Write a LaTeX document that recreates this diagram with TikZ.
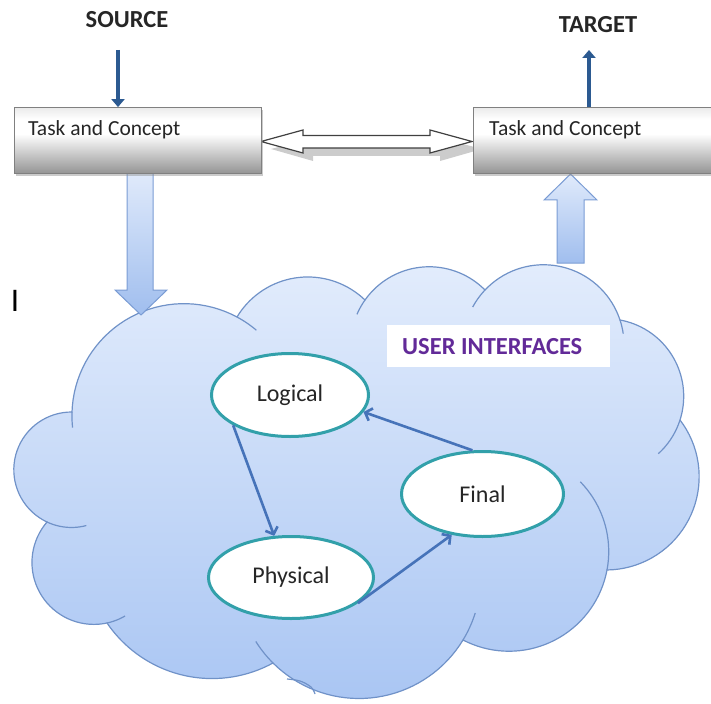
\documentclass[tikz,border=0pt]{standalone}
\usepackage{fontspec}
\setmainfont{Carlito}
\usetikzlibrary{arrows.meta,shapes.geometric,shadows}

\definecolor{srcblue}{RGB}{44,90,145}
\definecolor{linkblue}{RGB}{70,115,185}
\definecolor{ringteal}{RGB}{50,160,170}
\definecolor{cloudedge}{RGB}{112,146,200}
\definecolor{uipurple}{RGB}{98,42,152}
\definecolor{blockedge}{RGB}{122,156,212}
\definecolor{textdark}{RGB}{38,38,38}
\definecolor{cloudlow}{RGB}{170,198,243}
\definecolor{cloudhigh}{RGB}{226,236,252}
\definecolor{blocklow}{RGB}{160,190,238}
\definecolor{blockhigh}{RGB}{224,234,251}

\pgfdeclareverticalshading{boxshade}{100bp}{color(0bp)=(black!42); color(25bp)=(black!42); color(38bp)=(black!24); color(55bp)=(white); color(66bp)=(white); color(75bp)=(black!8); color(100bp)=(black!8)}
\pgfdeclareverticalshading{cloudshade}{100bp}{color(0bp)=(cloudlow); color(25bp)=(cloudlow); color(75bp)=(cloudhigh); color(100bp)=(cloudhigh)}
\pgfdeclareverticalshading{blockshade}{100bp}{color(0bp)=(blocklow); color(25bp)=(blocklow); color(75bp)=(blockhigh); color(100bp)=(blockhigh)}

% \lobefit{name}{x1}{y1}{xm}{ym}{x2}{y2}: circle through start, middle and end
% point of one cloud lobe; stores centre, radius and start/end angles
\newcommand\lobefit[7]{%
  \pgfmathsetmacro\lbBx{(#6-#2)/100}%
  \pgfmathsetmacro\lbBy{(#7-#3)/100}%
  \pgfmathsetmacro\lbCx{(#4-#2)/100}%
  \pgfmathsetmacro\lbCy{(#5-#3)/100}%
  \pgfmathsetmacro\lbBB{\lbBx*\lbBx+\lbBy*\lbBy}%
  \pgfmathsetmacro\lbCC{\lbCx*\lbCx+\lbCy*\lbCy}%
  \pgfmathsetmacro\lbD{2*(\lbBx*\lbCy-\lbBy*\lbCx)}%
  \pgfmathsetmacro\lbUx{(\lbCy*\lbBB-\lbBy*\lbCC)/\lbD}%
  \pgfmathsetmacro\lbUy{(\lbBx*\lbCC-\lbCx*\lbBB)/\lbD}%
  \pgfmathsetmacro\lbR{100*veclen(\lbUx,\lbUy)}%
  \pgfmathsetmacro\lbOx{#2+100*\lbUx}%
  \pgfmathsetmacro\lbOy{#3+100*\lbUy}%
  \pgfmathsetmacro\lbTa{atan2(-\lbUy,-\lbUx)}%
  \pgfmathsetmacro\lbTb{atan2(\lbBy-\lbUy,\lbBx-\lbUx)}%
  \pgfmathsetmacro\lbTb{\lbTb<\lbTa ? \lbTb+360 : \lbTb}%
  \expandafter\xdef\csname lbOx#1\endcsname{\lbOx}%
  \expandafter\xdef\csname lbOy#1\endcsname{\lbOy}%
  \expandafter\xdef\csname lbR#1\endcsname{\lbR}%
  \expandafter\xdef\csname lbTa#1\endcsname{\lbTa}%
  \expandafter\xdef\csname lbTb#1\endcsname{\lbTb}%
}

\begin{document}
\begin{tikzpicture}[x=1pt,y=-1pt,
  conceptbox/.style={shade, shading=boxshade, draw=black!50, line width=0.8pt,
    minimum width=247pt, minimum height=66pt, inner sep=0pt,
    drop shadow={shadow xshift=2pt, shadow yshift=-2.5pt, fill=black!45, opacity=.45}},
  boxtext/.style={anchor=base west, inner sep=0pt, text=textdark, font=\fontsize{21.5}{25}\selectfont},
  endlabel/.style={text=textdark, font=\fontsize{24.5}{28}\selectfont\bfseries},
  srcarrow/.style={draw=srcblue, line width=4.5pt, -{Triangle[length=8pt,width=13pt]}},
  blockarrow/.style={shade, shading=blockshade, draw=blockedge, line width=1pt, line join=miter},
  cloudshape/.style={shade, shading=cloudshade, draw=cloudedge, line width=1.2pt},
  cloudstub/.style={draw=cloudedge, line width=1.2pt},
  lobe/.style={samples=36, variable=\t},
  uistage/.style={ellipse, draw=ringteal, line width=3pt, fill=white, inner sep=0pt,
    text=textdark, font=\fontsize{24}{28}\selectfont},
  link/.style={draw=linkblue, line width=2.6pt, -{Straight Barb[length=6pt,width=13pt]}},
  smoothseg/.style={smooth, tension=.6}]

\useasboundingbox (0,0) rectangle (711,703);
\clip (0,0) rectangle (711,703);

% lobes of the cloud, clockwise from the upper left
\lobefit{A}{72}{412}{175}{304}{237}{317}
\lobefit{B}{237}{317}{310}{277}{365}{300}
\lobefit{C}{365}{300}{423}{267}{485}{290}
\lobefit{D}{485}{290}{550}{265}{620}{320}
\lobefit{E}{620}{320}{673}{357}{680}{420}
\lobefit{F}{680}{420}{690}{517}{607}{570}
\lobefit{G}{607}{570}{555}{640}{463}{640}
\lobefit{H}{463}{640}{370}{698}{273}{663}
\lobefit{I}{273}{663}{200}{678}{107}{623}
\lobefit{J}{107}{623}{40}{593}{47}{522}
\lobefit{K}{47}{522}{14}{465}{72}{412}

% hollow two-way arrow between the two concept boxes, with its shadow
\fill[black!40, opacity=.5]
  (271,149) -- (313,138) -- (313,143.5) -- (440,143.5) -- (440,138) -- (482,149)
  -- (440,161) -- (440,156) -- (313,156) -- (313,161) -- cycle;
\path[fill=white, draw=black!75, line width=1.2pt, line join=miter]
  (261,141.5) -- (303,130) -- (303,135.5) -- (430,135.5) -- (430,130) -- (472,141.5)
  -- (430,153) -- (430,148) -- (303,148) -- (303,153) -- cycle;

% the cloud of user interfaces
\path[cloudshape]
  plot[lobe, domain=\lbTaA:\lbTbA] ({\lbOxA+\lbRA*cos(\t)},{\lbOyA+\lbRA*sin(\t)})
  -- plot[lobe, domain=\lbTaB:\lbTbB] ({\lbOxB+\lbRB*cos(\t)},{\lbOyB+\lbRB*sin(\t)})
  -- plot[lobe, domain=\lbTaC:\lbTbC] ({\lbOxC+\lbRC*cos(\t)},{\lbOyC+\lbRC*sin(\t)})
  -- plot[lobe, domain=\lbTaD:\lbTbD] ({\lbOxD+\lbRD*cos(\t)},{\lbOyD+\lbRD*sin(\t)})
  -- plot[lobe, domain=\lbTaE:\lbTbE] ({\lbOxE+\lbRE*cos(\t)},{\lbOyE+\lbRE*sin(\t)})
  -- plot[lobe, domain=\lbTaF:\lbTbF] ({\lbOxF+\lbRF*cos(\t)},{\lbOyF+\lbRF*sin(\t)})
  -- plot[lobe, domain=\lbTaG:\lbTbG] ({\lbOxG+\lbRG*cos(\t)},{\lbOyG+\lbRG*sin(\t)})
  -- plot[lobe, domain=\lbTaH:\lbTbH] ({\lbOxH+\lbRH*cos(\t)},{\lbOyH+\lbRH*sin(\t)})
  -- plot[lobe, domain=\lbTaI:\lbTbI] ({\lbOxI+\lbRI*cos(\t)},{\lbOyI+\lbRI*sin(\t)})
  -- plot[lobe, domain=\lbTaJ:\lbTbJ] ({\lbOxJ+\lbRJ*cos(\t)},{\lbOyJ+\lbRJ*sin(\t)})
  -- plot[lobe, domain=\lbTaK:\lbTbK] ({\lbOxK+\lbRK*cos(\t)},{\lbOyK+\lbRK*sin(\t)})
  -- cycle;

% inner ends of the lobes, running on past the joins
\draw[cloudstub] plot[lobe, samples=10, domain=\lbTaA-8:\lbTaA] ({\lbOxA+\lbRA*cos(\t)},{\lbOyA+\lbRA*sin(\t)});
\draw[cloudstub] plot[lobe, samples=10, domain=\lbTbA:\lbTbA+12] ({\lbOxA+\lbRA*cos(\t)},{\lbOyA+\lbRA*sin(\t)});
\draw[cloudstub] plot[lobe, samples=10, domain=\lbTaC-12:\lbTaC] ({\lbOxC+\lbRC*cos(\t)},{\lbOyC+\lbRC*sin(\t)});
\draw[cloudstub] plot[lobe, samples=10, domain=\lbTaD-15:\lbTaD] ({\lbOxD+\lbRD*cos(\t)},{\lbOyD+\lbRD*sin(\t)});
\draw[cloudstub] plot[lobe, samples=10, domain=\lbTbD:\lbTbD+10] ({\lbOxD+\lbRD*cos(\t)},{\lbOyD+\lbRD*sin(\t)});
\draw[cloudstub] plot[lobe, samples=10, domain=\lbTbE:\lbTbE+30] ({\lbOxE+\lbRE*cos(\t)},{\lbOyE+\lbRE*sin(\t)});
\draw[cloudstub] plot[lobe, samples=20, domain=\lbTaG-55:\lbTaG] ({\lbOxG+\lbRG*cos(\t)},{\lbOyG+\lbRG*sin(\t)});
\draw[cloudstub] plot[lobe, samples=10, domain=\lbTaH-14:\lbTaH] ({\lbOxH+\lbRH*cos(\t)},{\lbOyH+\lbRH*sin(\t)});
\draw[cloudstub] plot[lobe, samples=10, domain=\lbTbH:\lbTbH+13] ({\lbOxH+\lbRH*cos(\t)},{\lbOyH+\lbRH*sin(\t)});
\draw[cloudstub] plot[lobe, samples=10, domain=\lbTaJ-18:\lbTaJ] ({\lbOxJ+\lbRJ*cos(\t)},{\lbOyJ+\lbRJ*sin(\t)});
\draw[cloudstub] plot[lobe, samples=14, domain=\lbTaK-40:\lbTaK] ({\lbOxK+\lbRK*cos(\t)},{\lbOyK+\lbRK*sin(\t)});
\draw[cloudstub] plot[smoothseg] coordinates {(287,679) (300,681) (311,687) (315,694)};

% block arrows: source concept down into the cloud, cloud up to target concept
\path[blockarrow] (127,172) -- (153,172) -- (153,290) -- (167,290) -- (141,315)
  -- (115,290) -- (127,290) -- cycle;
\path[blockarrow] (557,263) -- (584,263) -- (584,200) -- (597,200) -- (570.5,174)
  -- (544,200) -- (557,200) -- cycle;

% the two concept boxes
\node[conceptbox] (lbox) at (137.5,140.5) {};
\node[conceptbox] (rbox) at (596.5,140.5) {};
\node[boxtext] (ltext) at (28,135.5) {Task and Concept};
\node[boxtext] (rtext) at (489,135.5) {Task and Concept};

% source and target
\node[endlabel] (src) at (127,20) {SOURCE};
\node[endlabel] (tgt) at (598,25) {TARGET};
\coordinate (srcin) at (118,50);
\coordinate (tgtout) at (589,50);
\draw[srcarrow] (srcin) -- (lbox.north -| srcin);
\draw[srcarrow] (rbox.north -| tgtout) -- (tgtout);

% stray text cursor at the left margin
\node[inner sep=0pt, text=black, font=\fontsize{33}{36}\selectfont] (cursor) at (15,301) {I};

% title of the cloud
\node[fill=white, minimum width=223pt, minimum height=42pt, inner sep=0pt] (uibox) at (498.5,346) {};
\node[anchor=west, inner sep=0pt, text=uipurple, font=\fontsize{24.5}{28}\selectfont\bfseries] (uititle) at (402,347) {USER INTERFACES};

% the three interface levels
\node[uistage, minimum width=157pt, minimum height=83pt] (logical) at (290,395) {Logical};
\node[uistage, minimum width=165pt, minimum height=82pt] (physical) at (291,577.5) {Physical};
\node[uistage, minimum width=162pt, minimum height=85pt] (final) at (482.5,494) {Final};

\draw[link] (logical.208) -- (physical.112);
\draw[link] (physical.339) -- (final.233);
\draw[link] (final.103) -- (logical.347);

\end{tikzpicture}
\end{document}
